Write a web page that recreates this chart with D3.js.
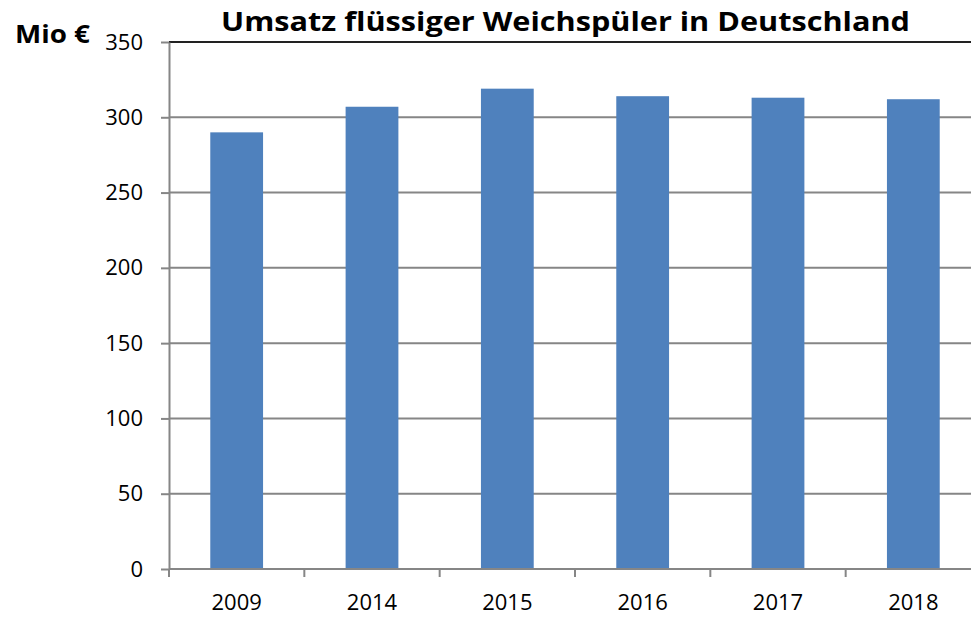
<!DOCTYPE html>
<html>
<head>
<meta charset="utf-8">
<script src="https://cdn.jsdelivr.net/npm/d3@7"></script>
<style>
  html, body { margin: 0; padding: 0; background: #fff; }
  svg { display: block; }
</style>
</head>
<body>
<svg id="chart" width="971" height="617"></svg>
<script>
const categories = ["2009", "2014", "2015", "2016", "2017", "2018"];
const values = [290, 307, 319, 314, 313, 312];
const yTicks = [0, 50, 100, 150, 200, 250, 300, 350];
const titleText = "Umsatz flüssiger Weichspüler in Deutschland";
const unitText = "Mio €";

(function () {
const svg = d3.select("#chart");
const plotLeft = 169, plotRight = 981, plotTop = 42, plotBottom = 569;
const font = "'Open Sans', Lato, sans-serif";

const x = d3.scaleBand().domain(categories).range([plotLeft, plotRight])
  .paddingInner(0.61).paddingOuter(0.305);
const y = d3.scaleLinear().domain([0, 350]).range([plotBottom, plotTop]);

// gridlines
svg.append("g").selectAll("line").data(yTicks.filter(t => t > 0 && t < 350)).join("line")
  .attr("x1", plotLeft).attr("x2", 971)
  .attr("y1", d => y(d)).attr("y2", d => y(d))
  .attr("stroke", "#868686").attr("stroke-width", 2);

// top border line at 350
svg.append("line").attr("x1", plotLeft).attr("x2", 971)
  .attr("y1", y(350)).attr("y2", y(350))
  .attr("stroke", "#222").attr("stroke-width", 2);

// bars
svg.append("g").selectAll("rect").data(values).join("rect")
  .attr("x", (d, i) => x(categories[i]))
  .attr("width", x.bandwidth())
  .attr("y", d => y(d))
  .attr("height", d => y(0) - y(d))
  .attr("fill", "#4F81BD");

// y axis
const yAxis = svg.append("g").attr("transform", `translate(${plotLeft},0)`)
  .call(d3.axisLeft(y).tickValues(yTicks).tickSizeInner(8).tickSizeOuter(0).tickPadding(18));
yAxis.select(".domain").attr("stroke", "#868686").attr("stroke-width", 2);
yAxis.selectAll(".tick line").attr("stroke", "#868686").attr("stroke-width", 2);
yAxis.selectAll(".tick text").attr("font-family", font).attr("font-size", 22).attr("fill", "#000");

// x axis
const xAxis = svg.append("g").attr("transform", `translate(0,${plotBottom})`)
  .call(d3.axisBottom(x).tickSize(0).tickPadding(25));
xAxis.select(".domain").remove();
xAxis.selectAll(".tick text").attr("font-family", font).attr("font-size", 22).attr("fill", "#000");
svg.append("line").attr("x1", plotLeft).attr("x2", 971).attr("y1", plotBottom).attr("y2", plotBottom)
  .attr("stroke", "#868686").attr("stroke-width", 2);
const boundaries = categories.map(c => x(c) - x.step() * x.paddingInner() / 2);
svg.append("g").selectAll("line").data(boundaries).join("line")
  .attr("x1", d => d).attr("x2", d => d)
  .attr("y1", plotBottom).attr("y2", plotBottom + 8)
  .attr("stroke", "#868686").attr("stroke-width", 2);

// title
svg.append("text").attr("x", 221).attr("y", 31)
  .attr("font-family", font).attr("font-weight", "bold")
  .attr("font-size", 27).attr("fill", "#000")
  .attr("textLength", 689).attr("lengthAdjust", "spacingAndGlyphs")
  .text(titleText);

svg.append("text").attr("x", 15).attr("y", 43)
  .attr("font-family", font).attr("font-weight", "bold")
  .attr("font-size", 25).attr("fill", "#000")
  .attr("textLength", 75).attr("lengthAdjust", "spacingAndGlyphs")
  .text(unitText);
})();
</script>
</body>
</html>
